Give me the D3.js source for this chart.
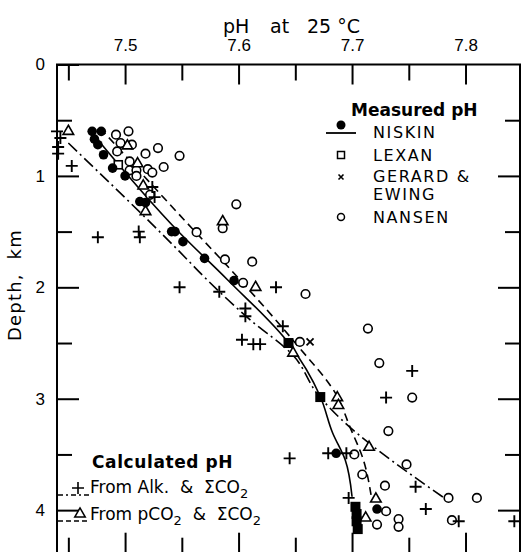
<!DOCTYPE html>
<html>
<head>
<meta charset="utf-8">
<script src="https://cdn.jsdelivr.net/npm/d3@7"></script>
<style>
body, html {
  margin: 0;
  padding: 0;
  background: #fff;
}
svg {
  font-family: "DejaVu Sans", sans-serif;
}
.frame {
  fill: none;
  stroke: #000;
  stroke-width: 2;
}
.tick line {
  stroke: #000;
  stroke-width: 2;
}
.tick text {
  font-size: 17px;
  fill: #000;
}
.fit {
  fill: none;
  stroke: #000;
  stroke-width: 1.6;
}
.lbl {
  font-size: 17px;
  fill: #000;
  white-space: pre;
}
</style>
</head>
<body>
<script>

// ---- data (pH, depth km) ----
var niskinPH    = [7.471, 7.479, 7.473, 7.476, 7.481, 7.489, 7.500, 7.513, 7.518, 7.541, 7.544, 7.551, 7.570, 7.596, 7.686, 7.722];
var niskinDepth = [0.60, 0.60, 0.67, 0.72, 0.81, 0.93, 1.00, 1.23, 1.24, 1.50, 1.50, 1.59, 1.74, 1.94, 3.49, 3.99];

var niskinSqPH    = [7.644, 7.672, 7.703, 7.704, 7.704, 7.705];
var niskinSqDepth = [2.50, 2.985, 3.97, 4.035, 4.10, 4.17];

var lexanPH    = [7.494];
var lexanDepth = [0.90];

var gerardPH    = [7.663];
var gerardDepth = [2.49];

var nansenPH    = [7.492, 7.503, 7.496, 7.506, 7.493, 7.518, 7.529, 7.548, 7.504, 7.504, 7.510, 7.520, 7.524, 7.534, 7.510, 7.522,
                   7.598, 7.586, 7.563, 7.588, 7.612, 7.604, 7.659, 7.654, 7.714, 7.724, 7.753, 7.732, 7.702, 7.748, 7.709, 7.729,
                   7.785, 7.810, 7.730, 7.722, 7.741, 7.741, 7.788];
var nansenDepth = [0.63, 0.60, 0.705, 0.72, 0.78, 0.80, 0.75, 0.82, 0.87, 0.95, 0.95, 0.94, 0.97, 0.92, 1.00, 1.17,
                   1.255, 1.47, 1.505, 1.75, 1.77, 1.96, 2.06, 2.49, 2.37, 2.68, 2.99, 3.29, 3.50, 3.59, 3.68, 3.78,
                   3.89, 3.89, 4.01, 4.13, 4.08, 4.15, 4.09];

var pco2PH    = [7.450, 7.502, 7.511, 7.516, 7.518, 7.586, 7.615, 7.648, 7.687, 7.688, 7.715, 7.721, 7.712];
var pco2Depth = [0.60, 0.73, 0.89, 1.09, 1.32, 1.41, 2.00, 2.59, 2.99, 3.06, 3.435, 3.90, 4.07];

var alkPH    = [7.440, 7.443, 7.441, 7.441, 7.453, 7.476, 7.512, 7.513, 7.524, 7.526, 7.548, 7.583, 7.633, 7.606, 7.606,
                7.639, 7.603, 7.613, 7.619, 7.753, 7.730, 7.645, 7.679, 7.695, 7.756, 7.697, 7.765, 7.794, 7.843];
var alkDepth = [0.60, 0.66, 0.74, 0.80, 0.91, 1.55, 1.50, 1.55, 1.10, 1.19, 2.00, 2.04, 2.00, 2.19, 2.26,
                2.35, 2.47, 2.51, 2.51, 2.75, 2.99, 3.535, 3.49, 3.49, 3.79, 3.89, 3.99, 4.10, 4.10];

// fitted curves
var solidPH    = [7.469, 7.548, 7.590, 7.644, 7.672, 7.683, 7.694, 7.700];
var solidDepth = [0.59, 1.51, 1.93, 2.50, 2.98, 3.31, 3.55, 3.88];
var dashPH     = [7.478, 7.548, 7.601, 7.650, 7.687, 7.698, 7.710, 7.717];
var dashDepth  = [0.57, 1.35, 1.93, 2.50, 2.98, 3.25, 3.55, 3.88];
var dotPH      = [7.450, 7.548, 7.572, 7.610, 7.648, 7.669, 7.784];
var dotDepth   = [0.705, 1.68, 1.93, 2.29, 2.61, 2.95, 3.91];

var phMajor = [7.5, 7.6, 7.7, 7.8];
var phMinor = [7.45, 7.55, 7.65, 7.75];
var depthMajor = [0, 1, 2, 3, 4];
var depthMinor = [0.5, 1.5, 2.5, 3.5];

//==========================================
var width = 524, height = 552;
var x0 = 57, x1 = 520, y0 = 64.5, y1 = 554.7;

var svg = d3.select("body").append("svg")
    .attr("width", width)
    .attr("height", height);

var x = d3.scaleLinear().domain([7.44, 7.848]).range([x0, x1]);
var y = d3.scaleLinear().domain([0, 4.4]).range([y0, y1]);

// axes, ticks pointing inward
svg.append("g").attr("transform", "translate(0," + y0 + ")")
  .call(d3.axisTop(x).tickValues(phMajor).tickSize(-20).tickPadding(14).tickFormat(d3.format(".1f")));
svg.append("g").attr("transform", "translate(0," + y0 + ")")
  .call(d3.axisTop(x).tickValues(phMinor).tickSize(-16).tickFormat(""));
svg.append("g").attr("transform", "translate(0," + y1 + ")")
  .call(d3.axisBottom(x).tickValues(phMajor).tickSize(-22).tickFormat(""));
svg.append("g").attr("transform", "translate(0," + y1 + ")")
  .call(d3.axisBottom(x).tickValues(phMinor).tickSize(-17).tickFormat(""));

svg.append("g").attr("transform", "translate(" + x0 + ",0)")
  .call(d3.axisLeft(y).tickValues(depthMajor).tickSize(-22).tickPadding(12).tickFormat(d3.format("d")));
svg.append("g").attr("transform", "translate(" + x0 + ",0)")
  .call(d3.axisLeft(y).tickValues(depthMinor).tickSize(-15).tickFormat(""));
svg.append("g").attr("transform", "translate(" + x1 + ",0)")
  .call(d3.axisRight(y).tickValues(depthMajor.slice(1)).tickSize(-22).tickFormat(""));
svg.append("g").attr("transform", "translate(" + x1 + ",0)")
  .call(d3.axisRight(y).tickValues(depthMinor).tickSize(-15).tickFormat(""));

svg.selectAll(".domain").remove();
svg.selectAll(".tick text").attr("font-family", null).attr("font-size", null);

svg.append("rect").attr("class", "frame")
  .attr("x", x0).attr("y", y0)
  .attr("width", x1 - x0).attr("height", y1 - y0);

// titles
var title = svg.append("text").attr("class", "lbl").attr("y", 33).style("font-size", "19px");
title.append("tspan").attr("x", 223).text("pH");
title.append("tspan").attr("x", 270).text("at");
title.append("tspan").attr("x", 307).text("25 °C");

svg.append("text").attr("class", "lbl")
  .attr("transform", "translate(21,285) rotate(-90)")
  .attr("text-anchor", "middle")
  .style("font-size", "18px")
  .style("letter-spacing", "1.2px")
  .text("Depth,  km");

// ---- fitted curves ----
var line = d3.line()
  .x(function(d) { return x(d[0]); })
  .y(function(d) { return y(d[1]); })
  .curve(d3.curveMonotoneY);

svg.append("path").attr("class", "fit").attr("d", line(d3.zip(solidPH, solidDepth)));
svg.append("path").attr("class", "fit").attr("stroke-dasharray", "8,5").attr("d", line(d3.zip(dashPH, dashDepth)));
svg.append("path").attr("class", "fit").attr("stroke-dasharray", "12,4,2,4").attr("d", line(d3.zip(dotPH, dotDepth)));

// ---- markers ----
var plusPath = "M-6,0H6M0,-6V6";
var crossPath = "M-3.5,-3.5L3.5,3.5M-3.5,3.5L3.5,-3.5";
var tri = d3.symbol().type(d3.symbolTriangle).size(48);

function points(cls, ph, depth) {
  return svg.append("g").attr("class", cls)
    .selectAll("g").data(d3.zip(ph, depth)).enter().append("g")
    .attr("transform", function(d) { return "translate(" + x(d[0]) + "," + y(d[1]) + ")"; });
}

points("nansen", nansenPH, nansenDepth).append("circle")
  .attr("r", 4.3).attr("fill", "#fff").attr("stroke", "#000").attr("stroke-width", 1.6);

points("pco2", pco2PH, pco2Depth).append("path")
  .attr("d", tri).attr("fill", "#fff").attr("stroke", "#000").attr("stroke-width", 1.6);

points("alk", alkPH, alkDepth).append("path")
  .attr("d", plusPath).attr("stroke", "#000").attr("stroke-width", 1.9);

points("lexan", lexanPH, lexanDepth).append("rect")
  .attr("x", -4).attr("y", -4).attr("width", 8).attr("height", 8)
  .attr("fill", "#fff").attr("stroke", "#000").attr("stroke-width", 1.6);

points("gerard", gerardPH, gerardDepth).append("path")
  .attr("d", crossPath).attr("stroke", "#000").attr("stroke-width", 1.8);

points("niskin", niskinPH, niskinDepth).append("circle")
  .attr("r", 4.8).attr("fill", "#000");

points("niskinsq", niskinSqPH, niskinSqDepth).append("rect")
  .attr("x", -5).attr("y", -5).attr("width", 10).attr("height", 10).attr("fill", "#000");

// ---- legend: measured ----
var lg = svg.append("g");
lg.append("text").attr("class", "lbl").attr("x", 351).attr("y", 116)
  .style("font-weight", "bold").text("Measured pH");
var names = ["NISKIN", "LEXAN", "GERARD &", "EWING", "NANSEN"];
var nameY = [138, 161, 182, 200, 223];
lg.selectAll("text.nm").data(names).enter().append("text")
  .attr("class", "lbl nm").attr("x", 373)
  .attr("y", function(d, i) { return nameY[i]; })
  .style("font-size", "16px")
  .style("letter-spacing", "1.6px")
  .text(function(d) { return d; });
lg.append("circle").attr("cx", 341).attr("cy", 125).attr("r", 4.5).attr("fill", "#000");
lg.append("line").attr("x1", 326).attr("x2", 356).attr("y1", 133).attr("y2", 133)
  .attr("stroke", "#000").attr("stroke-width", 1.8);
lg.append("rect").attr("x", 337.5).attr("y", 151.5).attr("width", 7).attr("height", 7)
  .attr("fill", "none").attr("stroke", "#000").attr("stroke-width", 1.5);
lg.append("path").attr("transform", "translate(341,177)").attr("d", "M-2.5,-2.5L2.5,2.5M-2.5,2.5L2.5,-2.5")
  .attr("stroke", "#000").attr("stroke-width", 1.6);
lg.append("circle").attr("cx", 341).attr("cy", 217).attr("r", 3.5)
  .attr("fill", "none").attr("stroke", "#000").attr("stroke-width", 1.5);

// ---- legend: calculated ----
var cg = svg.append("g");
cg.append("text").attr("class", "lbl").attr("x", 92).attr("y", 468)
  .style("font-weight", "bold").style("letter-spacing", "0.6px").text("Calculated pH");
var t1 = cg.append("text").attr("class", "lbl").attr("x", 90).attr("y", 493);
t1.append("tspan").text("From Alk.  &  ΣCO");
t1.append("tspan").attr("dy", 5).style("font-size", "13px").text("2");
var t2 = cg.append("text").attr("class", "lbl").attr("x", 90).attr("y", 520);
t2.append("tspan").text("From pCO");
t2.append("tspan").attr("dy", 5).style("font-size", "13px").text("2");
t2.append("tspan").attr("dy", -5).text("  &  ΣCO");
t2.append("tspan").attr("dy", 5).style("font-size", "13px").text("2");

cg.append("line").attr("x1", 58).attr("x2", 90).attr("y1", 495).attr("y2", 495)
  .attr("stroke", "#000").attr("stroke-width", 1.5).attr("stroke-dasharray", "5,3,2,3");
cg.append("path").attr("transform", "translate(78,488)").attr("d", plusPath)
  .attr("stroke", "#000").attr("stroke-width", 1.6);
cg.append("line").attr("x1", 58).attr("x2", 90).attr("y1", 521).attr("y2", 521)
  .attr("stroke", "#000").attr("stroke-width", 1.5).attr("stroke-dasharray", "5,3");
cg.append("path").attr("transform", "translate(80,514)").attr("d", tri)
  .attr("fill", "#fff").attr("stroke", "#000").attr("stroke-width", 1.5);

</script>
</body>
</html>
